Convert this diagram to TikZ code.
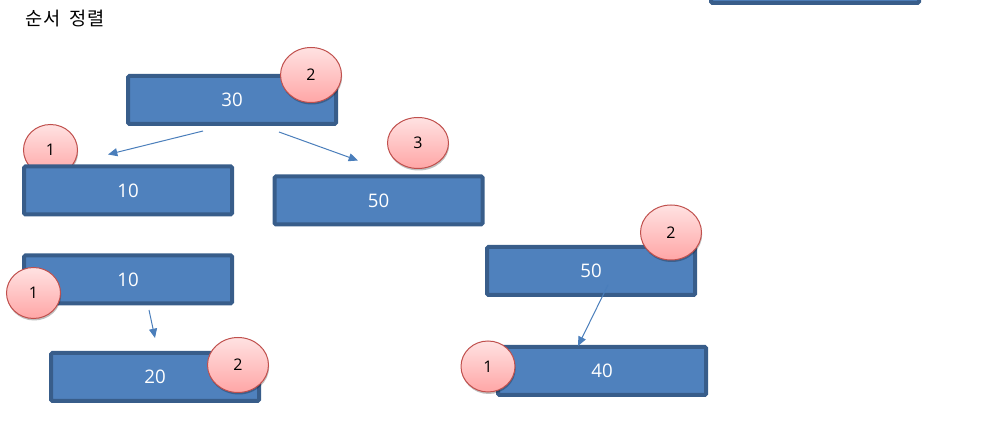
\documentclass[tikz,border=0pt]{standalone}
\usepackage{fontspec}
\setmainfont{Open Sans}
\newfontfamily\kofont[LetterSpace=8]{Noto Sans CJK KR}
\usetikzlibrary{shapes.geometric, arrows.meta, calc, shadows}
\definecolor{boxfill}{RGB}{79,129,189}
\definecolor{boxedge}{RGB}{56,93,138}
\definecolor{linkblue}{RGB}{74,126,187}
\definecolor{ordtop}{RGB}{255,226,226}
\definecolor{ordbot}{RGB}{255,166,166}
\definecolor{ordedge}{RGB}{192,80,77}

\begin{document}
\begin{tikzpicture}[
  x=0.75pt, y=-0.75pt,
  valbox/.style={rectangle, rounded corners=1pt, draw=boxedge, line width=3pt, fill=boxfill, text=white, font=\fontsize{14}{16}\selectfont, minimum width=156pt, minimum height=36pt, inner sep=0pt},
  ordmark/.style={ellipse, draw=ordedge, line width=0.75pt, top color=ordtop, bottom color=ordbot, font=\fontsize{12}{14}\selectfont, minimum width=45.75pt, minimum height=41.25pt, inner sep=0pt, drop shadow={shadow xshift=0.5pt, shadow yshift=-1.5pt, opacity=0.25, fill=black}},
  smallmark/.style={ordmark, minimum width=40.5pt, minimum height=38.25pt},
  link/.style={draw=linkblue, line width=0.75pt, -{Triangle[length=7pt,width=6pt]}},
]
  \clip (0,0) rectangle (982,427);

  \node[anchor=west, inner sep=0pt, font=\kofont\fontsize{14}{16}\selectfont] (title) at (25,19) {순서\hspace{6pt}정렬};

  % boxes
  \node[valbox] (ntop) at (815,-21) {};
  \node[valbox] (n30) at (232,100) {30};
  \node[smallmark] (o10a) at (50.5,150) {1};
  \node[valbox] (n10a) at (128,190.5) {10};
  \node[valbox] (n50a) at (378.5,200.5) {50};
  \node[valbox] (n10b) at (128,279.5) {10};
  \node[valbox] (n20) at (155,377) {20};
  \node[valbox] (n50b) at (591,271) {50};
  \node[valbox] (n40) at (602,371) {40};

  % links
  \draw[link] ($(n30.south)+(-29,5)$) -- ($(n10a.north)+(-20,-10)$);
  \draw[link] ($(n30.south)+(47,6)$) -- ($(n50a.north)+(-20.5,-14)$);
  \draw[link] ($(n10b.south)+(21,4.5)$) -- ($(n20.north)+(0,-13)$);
  \draw[link] ($(n50b.south)+(17,-12)$) -- ($(n40.north)+(-24,1)$);

  % order marks
  \node[ordmark] (o30) at (311,75) {2};
  \node[ordmark, minimum height=38.25pt] (o50a) at (418,143) {3};
  \node[smallmark] (o10b) at (33.5,293) {1};
  \node[ordmark] (o20) at (238,365) {2};
  \node[ordmark] (o50b) at (671,232.5) {2};
  \node[smallmark] (o40) at (488,366.5) {1};
\end{tikzpicture}
\end{document}
